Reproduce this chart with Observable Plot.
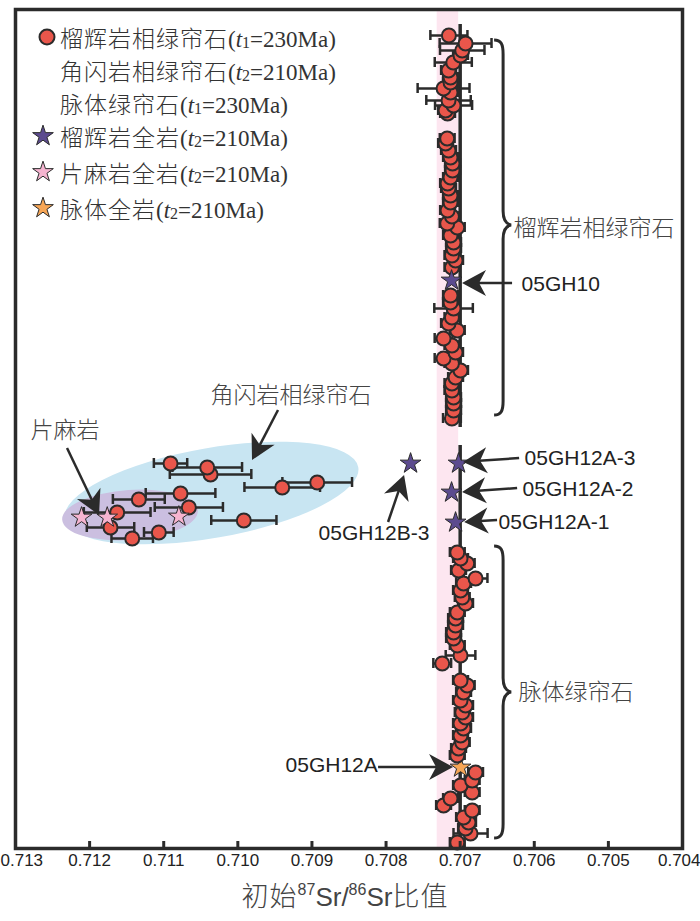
<!DOCTYPE html>
<html><head><meta charset="utf-8">
<script src="https://cdn.jsdelivr.net/npm/d3@7"></script>
<script src="https://cdn.jsdelivr.net/npm/@observablehq/plot@0.6"></script>
<style>
body{margin:0;background:#fff;}
#wrap{position:relative;width:700px;height:921px;overflow:hidden;background:#fff;}
#wrap svg{overflow:visible;}
.cjk{font-family:"Noto Sans CJK SC","Noto Sans CJK JP",sans-serif;font-weight:300;letter-spacing:1px;}
.lat{font-family:"Liberation Serif","Times New Roman",serif;}
.row{position:absolute;left:60px;font-size:23px;line-height:24px;height:24px;color:#333;white-space:nowrap;}
.sub{font-size:16px;vertical-align:-1px;line-height:0;}
#title{position:absolute;left:0;top:878px;width:690px;text-align:center;font-size:27px;line-height:34px;color:#444;}
#title .sr{font-family:"Liberation Sans",Arial,sans-serif;font-size:26px;}
#title sup{font-family:"Liberation Sans",Arial,sans-serif;font-size:16px;vertical-align:11px;line-height:0;}
</style></head><body><div id="wrap"></div>
<script>
// ---------- data ----------
const xTicks = [0.713,0.712,0.711,0.710,0.709,0.708,0.707,0.706,0.705,0.704];
const innerTicks = [0.712,0.711,0.710,0.709,0.708,0.707,0.706,0.705];
// [initial 87Sr/86Sr, sample position (top→bottom), 2σ error]
const garnetEpidote = [
[0.707152,26,0.00025],[0.706927,34,0.00035],[0.706972,41,0.0003],[0.706995,46,0.0001],
[0.707093,53,0.00025],[0.707157,61,0.0001],[0.70713,68,0.0001],[0.70713,73,0.0001],
[0.707224,79,0.00035],[0.70713,83,0.0001],[0.707157,91,0.0003],[0.707089,96,0.00025],
[0.707197,101,0.0001],[0.70717,104,0.0001],[0.707175,129,0.0001],[0.707197,134,0.0001],
[0.707157,141,0.0001],[0.70713,148,0.0001],[0.707103,154,0.0001],[0.707103,161,0.0001],
[0.70713,168,0.0001],[0.70717,174,0.0001],[0.707157,179,0.0001],[0.70713,186,0.0001],
[0.70713,193,0.0001],[0.70717,201,0.0001],[0.707111,207,0.0001],[0.707175,214,0.0001],
[0.707039,218,0.0001],[0.70713,226,0.0001],[0.707089,233,0.0001],[0.707089,239,0.0001],
[0.707111,246,0.0001],[0.707062,251,0.0001],[0.707111,258,0.0001],[0.70713,286,0.0001],
[0.70713,293,0.0001],[0.707089,299,0.00026],[0.707111,308,0.0001],[0.707157,314,0.0001],
[0.707039,321,0.0001],[0.707224,329,0.00012],[0.707111,336,0.0001],[0.707062,343,0.0001],
[0.707224,349,0.00012],[0.707111,354,0.0001],[0.706995,361,0.0001],[0.707062,368,0.0001],
[0.707111,374,0.0001],[0.707111,381,0.0001],[0.707089,388,0.0001],[0.707089,394,0.0001],
[0.707089,401,0.0001],[0.707111,409,0.00012]
];
const veinEpidote = [
[0.707039,543,0.0001],[0.706995,549,0.0001],[0.706905,554,0.0001],[0.707022,561,0.0001],
[0.706792,569,0.00016],[0.706954,574,0.0001],[0.706995,581,0.0001],[0.706972,588,0.0001],
[0.706927,594,0.0001],[0.707039,603,0.0001],[0.707062,609,0.0001],[0.707062,616,0.0001],
[0.707089,623,0.0001],[0.707089,629,0.0001],[0.707039,636,0.0001],[0.706995,646,0.0002],
[0.707242,654,0.00012],[0.706995,671,0.0001],[0.706905,676,0.0001],[0.706954,683,0.0001],
[0.706995,691,0.0001],[0.706927,696,0.0001],[0.706972,703,0.0001],[0.706927,708,0.0001],
[0.706995,714,0.0001],[0.706954,719,0.0001],[0.706995,726,0.0001],[0.706972,733,0.0001],
[0.707022,739,0.0001],[0.707039,746,0.0001],[0.706792,763,0.0001],[0.706838,771,0.0001],
[0.706995,776,0.0001],[0.706838,783,0.0001],[0.70713,789,0.0001],[0.707224,796,0.0001],
[0.706838,801,0.0001],[0.706954,808,0.0001],[0.706887,813,0.0001],[0.706927,819,0.0001],
[0.70686,824,0.00023],[0.707039,833,0.0001]
];
const amphiboliteEpidote = [
[0.710908,454,0.000225],[0.710413,458,0.00047],[0.710368,465,0.00055],[0.709401,478,0.00051],
[0.708929,473,0.00047],[0.711336,490,0.00035],[0.710773,484,0.00047],[0.710661,498,0.00046],
[0.711628,503,0.00045],[0.709919,511,0.00044],[0.711718,518,0.00032],[0.711066,523,0.0002],
[0.711425,529,0.00028]
];
const eclogiteWholeRock = [[0.707116,271],[0.707022,454],[0.707116,483],[0.707062,513],[0.707669,454]];
const gneissWholeRock = [[0.712109,508],[0.711762,508],[0.710796,507]];
const veinWholeRock = [[0.706995,758]];
const pinkBand = [[0.70731,0.70702]];
const refLine = [[0.707,15,418],[0.707,436,839]];
// label text, x, position
const codeLabels = [["05GH10",0.706171,275],["05GH12A-3",0.706131,449],["05GH12A-2",0.706158,480],
  ["05GH12A-1",0.706482,513],["05GH12B-3",0.708911,524],["05GH12A",0.709356,756]];
const cjkLabels = [["榴辉岩相绿帘石",0.706279,219],["脉体绿帘石",0.706212,683],
  ["角闪岩相绿帘石",0.710368,386],["片麻岩",0.712798,421]];
// arrows: tail x, tail pos, tip x, tip pos
const arrows = [[0.706293,274,0.706968,274],[0.706198,449,0.706954,453],[0.706225,479,0.706968,483],
  [0.706495,511,0.70694,513],[0.707966,513,0.70775,466],[0.708101,758,0.707089,758],
  [0.709451,401,0.709802,451],[0.712298,439,0.711866,506]];
// braces: x, top pos, middle pos, bottom pos
const braces = [[0.706414,31,216,406],[0.706414,537,683,829]];
// group ellipses: centre x, centre pos
const ellipses = [[0.710348,484],[0.711448,506]];
const ellipseStyle = [{rx:149,ry:45,rot:-10,fill:"#c8e5f2"},{rx:68,ry:25,rot:-4,fill:"#cbbfe0"}];

const legendNames = ["榴辉岩相绿帘石","角闪岩相绿帘石","脉体绿帘石","榴辉岩全岩","片麻岩全岩","脉体全岩"];
const legendSub = ["1","2","1","2","2","2"];
const legendAge = ["230","210","230","210","210","210"];

// ---------- styles ----------
const RED="#e9564b", PURPLE="#5c4b8f", PINK="#f6b4d0", ORANGE="#f7a656", INK="#2b2b2b";
const legendSym = [["circle",RED],null,null,["star",PURPLE],["star",PINK],["star",ORANGE]];
const legendY = [37,70,103,136,172,208];

const byPosDesc = (a,b)=>b[1]-a[1];
const epi = [...garnetEpidote, ...veinEpidote].sort(byPosDesc);
const amph = [...amphiboliteEpidote].sort(byPosDesc);

function ellipseMark(index, {x, y}) {
  const g = d3.create("svg:g");
  ellipses.forEach((e,i)=>{
    const s = ellipseStyle[i];
    g.append("ellipse").attr("cx",0).attr("cy",0).attr("rx",s.rx).attr("ry",s.ry)
      .attr("fill",s.fill)
      .attr("transform",`translate(${x(e[0])},${y(e[1])}) rotate(${s.rot})`);
  });
  return g.node();
}
function annotationMark(index, {x, y}) {
  const g = d3.create("svg:g");
  for (const a of arrows) {
    const x1=x(a[0]), y1=y(a[1]), x2=x(a[2]), y2=y(a[3]);
    const ang=Math.atan2(y2-y1,x2-x1);
    const N=16;
    g.append("line").attr("x1",x1).attr("y1",y1)
      .attr("x2",x2-N*Math.cos(ang)).attr("y2",y2-N*Math.sin(ang))
      .attr("stroke",INK).attr("stroke-width",2.5);
    g.append("path").attr("d","M0,0 L-24,-13 L-17,0 L-24,13 Z").attr("fill",INK)
      .attr("transform",`translate(${x2},${y2}) rotate(${ang*180/Math.PI})`);
  }
  for (const b of braces) {
    const x0=x(b[0]), t=y(b[1]), m=y(b[2]), bt=y(b[3]);
    const d=`M${x0-9},${t} C${x0-2},${t} ${x0},${t+4} ${x0},${t+14} L${x0},${m-14} C${x0},${m-5} ${x0+3},${m-1} ${x0+8},${m} C${x0+3},${m+1} ${x0},${m+5} ${x0},${m+14} L${x0},${bt-14} C${x0},${bt-4} ${x0-2},${bt} ${x0-9},${bt}`;
    g.append("path").attr("d",d).attr("fill","none").attr("stroke",INK).attr("stroke-width",3);
  }
  return g.node();
}

const errBarMarks = (data) => [
  Plot.ruleY(data,{y:d=>d[1],x1:d=>d[0]-d[2],x2:d=>d[0]+d[2],stroke:INK,strokeWidth:2.5}),
  Plot.ruleX(data,{x:d=>d[0]-d[2],y1:d=>d[1]-5,y2:d=>d[1]+5,stroke:INK,strokeWidth:2.5}),
  Plot.ruleX(data,{x:d=>d[0]+d[2],y1:d=>d[1]-5,y2:d=>d[1]+5,stroke:INK,strokeWidth:2.5})
];
const axisFont = {tickSize:0,tickPadding:5,tickFormat:d3.format(".3f"),fontSize:17,
  fontFamily:"Liberation Sans, Arial, sans-serif",fill:"#222",label:null};

const plot = Plot.plot({
  width:700, height:880,
  marginTop:9, marginBottom:32, marginLeft:15, marginRight:18,
  x:{domain:[0.713,0.704]},
  y:{domain:[0,839], reverse:true, axis:null},
  style:{background:"transparent"},
  marks:[
    Plot.rect(pinkBand,{x1:d=>d[0],x2:d=>d[1],y1:0,y2:839,fill:"#fde6f0"}),
    ellipseMark,
    Plot.ruleX(refLine,{x:d=>d[0],y1:d=>d[1],y2:d=>d[2],stroke:INK,strokeWidth:3.5}),
    ...errBarMarks(amphiboliteEpidote),
    Plot.dot(amph,{x:d=>d[0],y:d=>d[1],r:7,fill:RED,stroke:INK,strokeWidth:2}),
    Plot.dot(gneissWholeRock,{x:d=>d[0],y:d=>d[1],symbol:"star",r:6.5,fill:PINK,stroke:INK,strokeWidth:1}),
    ...errBarMarks([...garnetEpidote,...veinEpidote]),
    Plot.dot(veinWholeRock,{x:d=>d[0],y:d=>d[1],symbol:"star",r:6.5,fill:ORANGE,stroke:INK,strokeWidth:1}),
    Plot.dot(epi,{x:d=>d[0],y:d=>d[1],r:7,fill:RED,stroke:INK,strokeWidth:2}),
    Plot.dot(eclogiteWholeRock,{x:d=>d[0],y:d=>d[1],symbol:"star",r:6.5,fill:PURPLE,stroke:INK,strokeWidth:1}),
    annotationMark,
    Plot.text(codeLabels,{x:d=>d[1],y:d=>d[2],text:d=>d[0],textAnchor:"start",fontSize:21,
      fontFamily:"Liberation Sans, Arial, sans-serif",fill:"#222"}),
    Plot.text(cjkLabels,{x:d=>d[1],y:d=>d[2],text:d=>d[0],textAnchor:"start",fontSize:23,
      fontFamily:"Noto Sans CJK SC, sans-serif",fontWeight:300,fill:"#444"}),
    Plot.ruleX(innerTicks,{y1:832,y2:839,stroke:INK,strokeWidth:3}),
    Plot.frame({stroke:INK,strokeWidth:3.5}),
    Plot.axisX(xTicks.slice(1,-1),axisFont),
    Plot.axisX(xTicks.slice(0,1),{...axisFont,textAnchor:"start",dx:-15}),
    Plot.axisX(xTicks.slice(-1),{...axisFont,textAnchor:"end",dx:18})
  ]
});
const wrap = document.getElementById("wrap");
wrap.appendChild(plot);

// legend
legendNames.forEach((name,i)=>{
  const row = document.createElement("div");
  row.className="row";
  row.style.top = (legendY[i]-12)+"px";
  row.innerHTML = `<span class="cjk">${name}</span><span class="lat">(<i>t</i><span class="sub">${legendSub[i]}</span>=${legendAge[i]}Ma)</span>`;
  wrap.appendChild(row);
  const s = legendSym[i];
  if (s) {
    const svg = d3.create("svg").attr("width",26).attr("height",26)
      .style("position","absolute").style("left",(s[0]==="circle"?34:30)+"px").style("top",(legendY[i]-13)+"px");
    const size = Math.PI*(s[0]==="circle"?7.5:6.5)**2;
    svg.append("path").attr("d",d3.symbol(s[0]==="circle"?d3.symbolCircle:d3.symbolStar,size)())
      .attr("transform","translate(13,13)").attr("fill",s[1]).attr("stroke",INK)
      .attr("stroke-width",s[0]==="circle"?2:1);
    wrap.appendChild(svg.node());
  }
});
// x-axis title
const title = document.createElement("div");
title.id="title";
title.innerHTML = `<span class="cjk">初始</span><sup>87</sup><span class="sr">Sr/</span><sup>86</sup><span class="sr">Sr</span><span class="cjk">比值</span>`;
wrap.appendChild(title);
</script></body></html>
